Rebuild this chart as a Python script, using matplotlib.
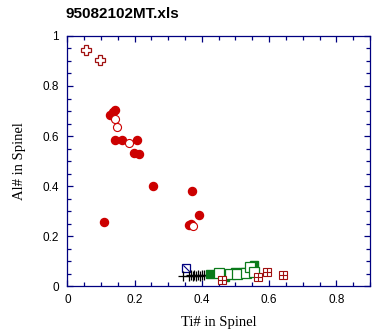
import numpy as np
import matplotlib
matplotlib.use("Agg")
import matplotlib.pyplot as plt
from matplotlib.path import Path
from matplotlib.ticker import MultipleLocator

# spinel compositions, grouped by symbol
cross_ti = [0.056, 0.097]
cross_al = [0.943, 0.903]

red_fill_ti = [0.127, 0.137, 0.143, 0.143, 0.163, 0.208, 0.199, 0.212,
               0.256, 0.372, 0.390, 0.367, 0.362, 0.110]
red_fill_al = [0.685, 0.697, 0.706, 0.583, 0.583, 0.583, 0.531, 0.527,
               0.399, 0.379, 0.283, 0.249, 0.245, 0.255]

red_open_ti = [0.143, 0.149, 0.182, 0.375]
red_open_al = [0.667, 0.635, 0.573, 0.239]

blue_ti = [0.353]
blue_al = [0.071]

black_ti = [0.345, 0.362, 0.368, 0.373, 0.378, 0.383, 0.388, 0.393, 0.400, 0.407]
black_al = [0.040, 0.042, 0.045, 0.040, 0.044, 0.041, 0.045, 0.042, 0.043, 0.044]

green_fill_ti = [0.424, 0.469, 0.500, 0.523, 0.556]
green_fill_al = [0.047, 0.035, 0.055, 0.055, 0.083]

green_open_ti = [0.452, 0.484, 0.503, 0.530, 0.543, 0.556]
green_open_al = [0.051, 0.048, 0.048, 0.054, 0.077, 0.058]

boxed_ti = [0.460, 0.566, 0.593, 0.642]
boxed_al = [0.024, 0.037, 0.055, 0.043]

RED = "#cc0000"
DARKRED = "#a01010"
GREEN = "#0a7a1a"
NAVY = "#000080"

fig = plt.figure(figsize=(3.85, 3.3), dpi=100)
ax = fig.add_axes([0.175, 0.133, 0.786, 0.758])

ax.plot(cross_ti, cross_al, "P", ms=6.5, mfc="white", mec=DARKRED, mew=0.9)
ax.plot(red_fill_ti, red_fill_al, "o", ms=5.8, mfc=RED, mec=RED)
ax.plot(red_open_ti, red_open_al, "o", ms=5.8, mfc="white", mec=RED, mew=0.8)

diag = Path([(-1, 1), (1, -1)], [Path.MOVETO, Path.LINETO])
ax.plot(blue_ti, blue_al, "s", ms=5.5, mfc="white", mec=NAVY, mew=0.9)
ax.plot(blue_ti, blue_al, marker=diag, ls="none", ms=4.5, mec=NAVY, mew=0.8)

ax.plot(black_ti, black_al, "+", ms=6.5, color="black", mew=0.9)

ax.plot(green_fill_ti, green_fill_al, "s", ms=5.5, mfc=GREEN, mec=GREEN)
ax.plot(green_open_ti, green_open_al, "s", ms=6.5, mfc="white", mec=GREEN, mew=0.9)

ax.plot(boxed_ti, boxed_al, "s", ms=5.5, mfc="white", mec=DARKRED, mew=0.8)
ax.plot(boxed_ti, boxed_al, "+", ms=5.5, color=DARKRED, mew=0.8)

ax.set_xlim(0, 0.9)
ax.set_ylim(0, 1)
ax.xaxis.set_major_locator(MultipleLocator(0.2))
ax.xaxis.set_minor_locator(MultipleLocator(0.05))
ax.yaxis.set_major_locator(MultipleLocator(0.2))
ax.yaxis.set_minor_locator(MultipleLocator(0.05))
ax.xaxis.set_major_formatter(lambda v, p: f"{v:g}")
ax.yaxis.set_major_formatter(lambda v, p: f"{v:g}")

for s in ax.spines.values():
    s.set_color(NAVY)
    s.set_linewidth(0.9)
ax.tick_params(which="both", direction="in", top=True, right=True,
               color=NAVY, width=0.9, labelsize=8.5,
               labelfontfamily="Liberation Sans")
ax.tick_params(which="major", length=4.5, pad=6)
ax.tick_params(which="minor", length=3)

ax.set_xlabel("Ti# in Spinel", family="Liberation Serif", fontsize=10.5, labelpad=7)
ax.set_ylabel("Al# in Spinel", family="Liberation Serif", fontsize=10.5, labelpad=12)

fig.text(0.171, 0.958, "95082102MT.xls", family="Liberation Sans",
         fontweight="bold", fontsize=11, ha="left", va="center")

fig.savefig("out.png", dpi=100)
